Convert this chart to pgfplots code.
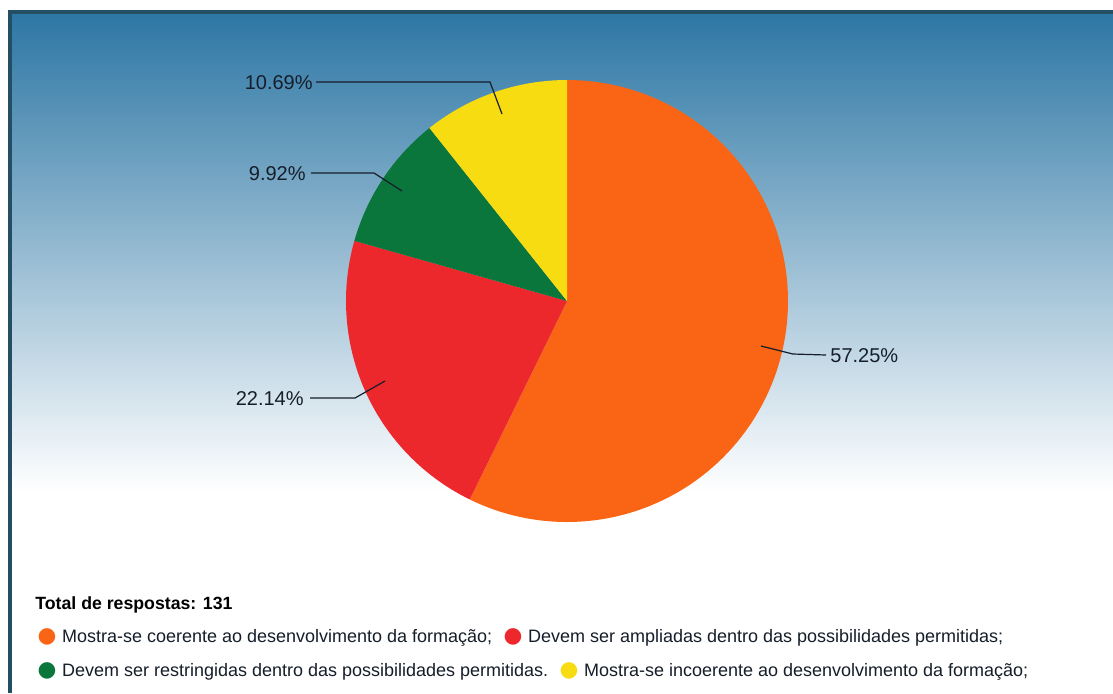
\documentclass[border=0pt]{standalone}
\usepackage{pgfplots}
\pgfplotsset{compat=1.18}
\usepackage{pgfplotstable}
\usepackage{fontspec}
\setmainfont{Liberation Sans}
\newfontfamily\symfont{DejaVu Sans}
\definecolor{cOrange}{RGB}{249,101,21}
\definecolor{cRed}{RGB}{236,40,45}
\definecolor{cGreen}{RGB}{10,118,60}
\definecolor{cYellow}{RGB}{248,220,18}
\definecolor{bgTop}{RGB}{44,118,164}
\definecolor{frameC}{RGB}{35,78,100}
\definecolor{txt}{RGB}{22,30,42}
\newcommand\legdot[1]{{\symfont\fontsize{10.8}{11}\selectfont\textcolor{#1}{●}}}

\pgfplotstableread{
pct
57.25
22.14
9.92
10.69
}\piedata

\begin{document}
\begin{tikzpicture}
\pgfplotstablegetelem{0}{pct}\of\piedata \let\pA\pgfplotsretval
\pgfplotstablegetelem{1}{pct}\of\piedata \let\pB\pgfplotsretval
\pgfplotstablegetelem{2}{pct}\of\piedata \let\pC\pgfplotsretval
\pgfplotstablegetelem{3}{pct}\of\piedata \let\pD\pgfplotsretval
\pgfmathsetmacro\aA{90-3.6*\pA}
\pgfmathsetmacro\aB{\aA-3.6*\pB}
\pgfmathsetmacro\aC{\aB-3.6*\pC}
\pgfmathsetmacro\aD{\aC-3.6*\pD}
\begin{axis}[x=0.5pt,y=0.5pt,y dir=reverse,
  xmin=0,xmax=1113,ymin=0,ymax=693,
  hide axis, clip=false]
\fill[white] (axis cs:0,0) rectangle (axis cs:1113,693);
\shade[top color=bgTop, bottom color=white] (axis cs:10,12) rectangle (axis cs:1113,492);
\fill[frameC] (axis cs:8,10) rectangle (axis cs:1113,13.5);
\fill[frameC] (axis cs:8,10) rectangle (axis cs:11.5,693);

\addplot[fill=cOrange, draw=none, domain=\aA:90, samples=120] ({567+221*cos(x)},{301-221*sin(x)}) -- (axis cs:567,301) -- cycle;
\addplot[fill=cRed, draw=none, domain=\aB:\aA, samples=60] ({567+221*cos(x)},{301-221*sin(x)}) -- (axis cs:567,301) -- cycle;
\addplot[fill=cGreen, draw=none, domain=\aC:\aB, samples=40] ({567+221*cos(x)},{301-221*sin(x)}) -- (axis cs:567,301) -- cycle;
\addplot[fill=cYellow, draw=none, domain=\aD:\aC, samples=40] ({567+221*cos(x)},{301-221*sin(x)}) -- (axis cs:567,301) -- cycle;

\draw[txt, line width=0.6pt] (axis cs:316,82) -- (axis cs:490,82) -- (axis cs:502,114);
\draw[txt, line width=0.6pt] (axis cs:311,173) -- (axis cs:374,173) -- (axis cs:402,191);
\draw[txt, line width=0.6pt] (axis cs:310,398) -- (axis cs:355,398) -- (axis cs:385,381);
\draw[txt, line width=0.6pt] (axis cs:826,355) -- (axis cs:793,354) -- (axis cs:761,346);

\node[anchor=base east, inner sep=0, text=txt, font=\fontsize{10}{12}\selectfont] at (axis cs:313,89) {10.69\%};
\node[anchor=base east, inner sep=0, text=txt, font=\fontsize{10}{12}\selectfont] at (axis cs:306,180) {9.92\%};
\node[anchor=base east, inner sep=0, text=txt, font=\fontsize{10}{12}\selectfont] at (axis cs:304,405) {22.14\%};
\node[anchor=base west, inner sep=0, text=txt, font=\fontsize{10}{12}\selectfont] at (axis cs:830,362) {57.25\%};

\node[anchor=base west, inner sep=0, text=black, font=\fontsize{8.85}{10}\selectfont\bfseries] at (axis cs:35,609.5) {Total de respostas: 131};
\node[anchor=base west, inner sep=0, text=txt, font=\fontsize{9}{10}\selectfont] at (axis cs:37.3,642) {\legdot{cOrange}\hspace{2.75pt}Mostra-se coerente ao desenvolvimento da formação;};
\node[anchor=base west, inner sep=0, text=txt, font=\fontsize{9}{10}\selectfont] at (axis cs:503.3,642) {\legdot{cRed}\hspace{2.75pt}Devem ser ampliadas dentro das possibilidades permitidas;};
\node[anchor=base west, inner sep=0, text=txt, font=\fontsize{9}{10}\selectfont] at (axis cs:37.3,676) {\legdot{cGreen}\hspace{2.75pt}Devem ser restringidas dentro das possibilidades permitidas.};
\node[anchor=base west, inner sep=0, text=txt, font=\fontsize{9}{10}\selectfont] at (axis cs:559.3,676) {\legdot{cYellow}\hspace{2.75pt}Mostra-se incoerente ao desenvolvimento da formação;};
\end{axis}
\end{tikzpicture}
\end{document}
